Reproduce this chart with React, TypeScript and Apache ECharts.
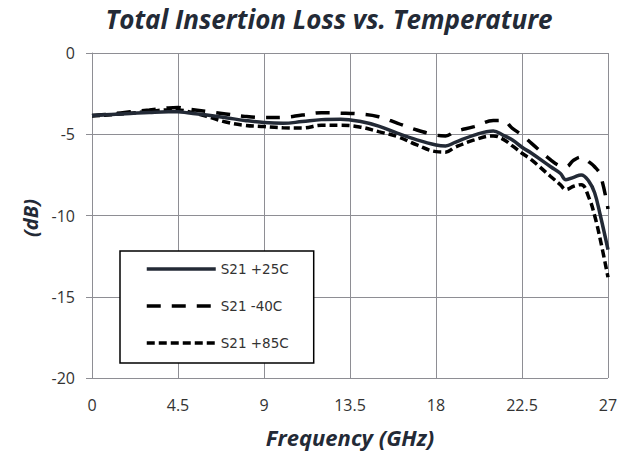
import React, { useEffect, useRef } from "react";
import * as echarts from "echarts";

const freqs = [0, 1, 2, 3, 4, 4.5, 5, 6, 7, 8, 9, 10, 11, 12, 13, 14, 15, 16, 17, 18, 18.5, 19, 20, 21, 21.5, 22, 22.5, 23, 24, 24.5, 24.8, 25.2, 25.6, 26, 26.3, 26.6, 27];

const s21p25 = [-3.85, -3.78, -3.72, -3.66, -3.62, -3.62, -3.68, -3.82, -3.98, -4.15, -4.28, -4.33, -4.22, -4.1, -4.07, -4.2, -4.5, -4.95, -5.35, -5.66, -5.72, -5.5, -5.05, -4.8, -5.05, -5.35, -5.8, -6.17, -7.0, -7.4, -7.8, -7.65, -7.5, -7.9, -8.6, -10.0, -12.1];

const s21m40 = [-3.85, -3.75, -3.62, -3.5, -3.38, -3.35, -3.45, -3.6, -3.75, -3.9, -3.97, -3.96, -3.82, -3.68, -3.7, -3.75, -3.92, -4.33, -4.74, -5.05, -5.1, -4.84, -4.53, -4.16, -4.15, -4.64, -5.05, -5.56, -6.58, -6.95, -7.0, -6.6, -6.4, -6.7, -7.0, -7.5, -9.6];

const s21p85 = [-3.88, -3.8, -3.7, -3.6, -3.5, -3.5, -3.6, -3.9, -4.25, -4.45, -4.53, -4.6, -4.62, -4.45, -4.45, -4.55, -4.84, -5.15, -5.66, -6.07, -6.1, -5.8, -5.35, -5.1, -5.3, -5.72, -6.17, -6.58, -7.6, -8.1, -8.4, -8.2, -8.1, -8.9, -10.0, -11.5, -13.8];

const seriesNames = ["S21 +25C", "S21 -40C", "S21 +85C"];
const xTicks = { min: 0, max: 27, interval: 4.5 };
const yTicks = { min: -20, max: 0, interval: 5 };

const pair = (vals: number[]) => freqs.map((f, i) => [f, vals[i]]);

export default function App() {
  const ref = useRef<HTMLDivElement>(null);
  useEffect(() => {
    if (!ref.current) return;
    const chart = echarts.init(ref.current, null, { renderer: "svg" });
    const gridColor = "#8e8e94";
    const ink = "#232a36";
    const labelFont = { fontFamily: "Open Sans", fontSize: 16, color: "#333333" };
    const headFont = { fontFamily: "Open Sans", fontStyle: "italic", fontWeight: "bold" };
    const hidden = "rgba(0,0,0,0)";
    chart.setOption({
      animation: false,
      backgroundColor: "#ffffff",
      title: {
        text: "Total Insertion Loss vs. Temperature",
        left: 324,
        textAlign: "center",
        top: 1,
        textStyle: { ...headFont, fontSize: 26, color: ink },
      },
      grid: { left: 92, right: 23, top: 53, bottom: 80, outerBoundsMode: "none" },
      xAxis: {
        type: "value",
        min: xTicks.min,
        max: xTicks.max,
        interval: xTicks.interval,
        name: "Frequency (GHz)",
        nameLocation: "middle",
        nameGap: 48,
        nameTextStyle: { ...headFont, fontSize: 22, color: ink },
        axisLine: { show: true, lineStyle: { color: gridColor, width: 1 } },
        axisTick: { show: true, length: 6, lineStyle: { color: gridColor } },
        axisLabel: { ...labelFont, margin: 19 },
        splitLine: { show: true, lineStyle: { color: gridColor, width: 1 } },
      },
      yAxis: {
        type: "value",
        min: yTicks.min,
        max: yTicks.max,
        interval: yTicks.interval,
        axisLine: { show: true, lineStyle: { color: gridColor, width: 1 } },
        axisTick: { show: true, length: 6, lineStyle: { color: gridColor } },
        axisLabel: { ...labelFont, margin: 17 },
        splitLine: { show: true, lineStyle: { color: gridColor, width: 1 } },
      },
      legend: {
        show: true,
        orient: "vertical",
        left: 120,
        top: 251,
        padding: [11, 25, 13, 25],
        itemGap: 23,
        itemWidth: 69,
        itemHeight: 14,
        borderColor: "#000000",
        borderWidth: 1.5,
        backgroundColor: "#ffffff",
        lineStyle: { width: 3.5 },
        textStyle: { fontFamily: "DejaVu Sans", fontSize: 13.5, color: "#333333" },
        data: seriesNames,
      },
      graphic: [
        {
          type: "text",
          x: 30,
          y: 218,
          rotation: Math.PI / 2,
          style: {
            text: "(dB)",
            align: "center",
            verticalAlign: "middle",
            ...headFont,
            fontSize: 20,
            fill: ink,
          },
        },
      ],
      series: [
        {
          name: seriesNames[0],
          type: "line",
          data: pair(s21p25),
          smooth: 0.4,
          symbol: "none",
          z: 3,
          lineStyle: { color: ink, width: 3.5, type: "solid" },
          itemStyle: { color: hidden },
        },
        {
          name: seriesNames[1],
          type: "line",
          data: pair(s21m40),
          smooth: 0.4,
          symbol: "none",
          z: 2,
          lineStyle: { color: "#000000", width: 3.5, type: [14, 11] },
          itemStyle: { color: hidden },
        },
        {
          name: seriesNames[2],
          type: "line",
          data: pair(s21p85),
          smooth: 0.4,
          symbol: "none",
          z: 2,
          lineStyle: { color: "#000000", width: 3.5, type: [8, 4] },
          itemStyle: { color: hidden },
        },
      ],
    });
    return () => chart.dispose();
  }, []);
  return <div ref={ref} style={{ width: 631, height: 458, position: "absolute", left: 0, top: 0 }} />;
}
